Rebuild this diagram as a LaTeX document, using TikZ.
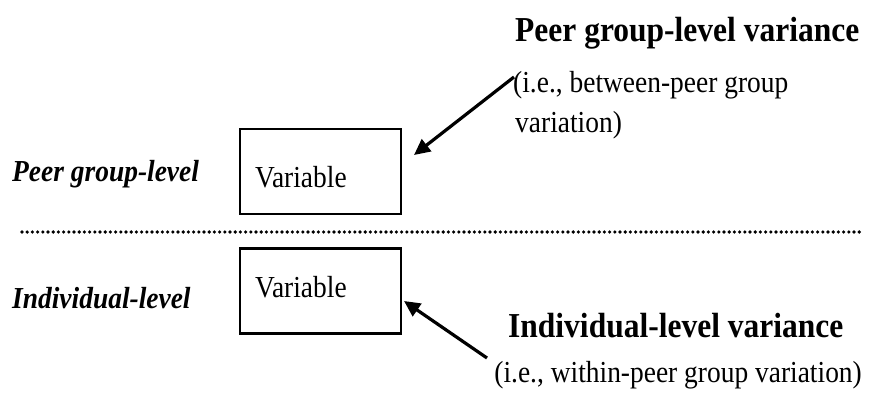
\documentclass[tikz,border=0pt]{standalone}
\usepackage{fontspec}
\setmainfont{Liberation Serif}[FakeStretch=0.9]
\usetikzlibrary{arrows.meta}
\begin{document}
\begin{tikzpicture}[x=1pt,y=1pt,
  box/.style={draw,line width=2.2pt,minimum width=161pt,minimum height=85pt,inner sep=0pt},
  txt/.style={anchor=base west,inner sep=0pt,font=\fontsize{30.5}{36}\selectfont},
  lvl/.style={anchor=base west,inner sep=0pt,font=\fontsize{30.5}{36}\selectfont\bfseries\itshape},
  head/.style={anchor=base west,inner sep=0pt,font=\fontsize{35}{42}\selectfont\bfseries},
  arr/.style={line width=3.2pt,-{Triangle[length=16pt,width=15pt]}},
  dotline/.style={line width=3.6pt,line cap=round,dash pattern=on 0pt off 5.2pt}]
\useasboundingbox (0,0) rectangle (872,394);
% boxes
\node[box] (b1) at (320.5,222.5) {};
\node[box] (b2) at (320.5,103) {};
\node[txt] (v1) at (255,206) {Variable};
\node[txt] (v2) at (255,97) {Variable};
% level labels
\node[lvl] (l1) at (12,212) {Peer group-level};
\node[lvl] (l2) at (12,86) {Individual-level};
% dotted separator
\coordinate (d1) at (22,162);
\coordinate (d2) at (862,162);
\draw[dotline] (d1) -- (d2);
% headings
\node[head] (h1) at (515,352) {Peer group-level variance};
\node[txt] (s1a) at (513,301) {(i.e., between-peer group};
\node[txt] (s1b) at (515,261) {variation)};
\node[head] (h2) at (508,57) {Individual-level variance};
\node[txt,anchor=base east] (s2) at (862,12) {(i.e., within-peer group variation)};
% arrows
\coordinate (a1s) at (514,317);
\coordinate (a1e) at (414,239);
\draw[arr] (a1s) -- (a1e);
\coordinate (a2s) at (487,36);
\coordinate (a2e) at (404,93);
\draw[arr] (a2s) -- (a2e);
\end{tikzpicture}
\end{document}
